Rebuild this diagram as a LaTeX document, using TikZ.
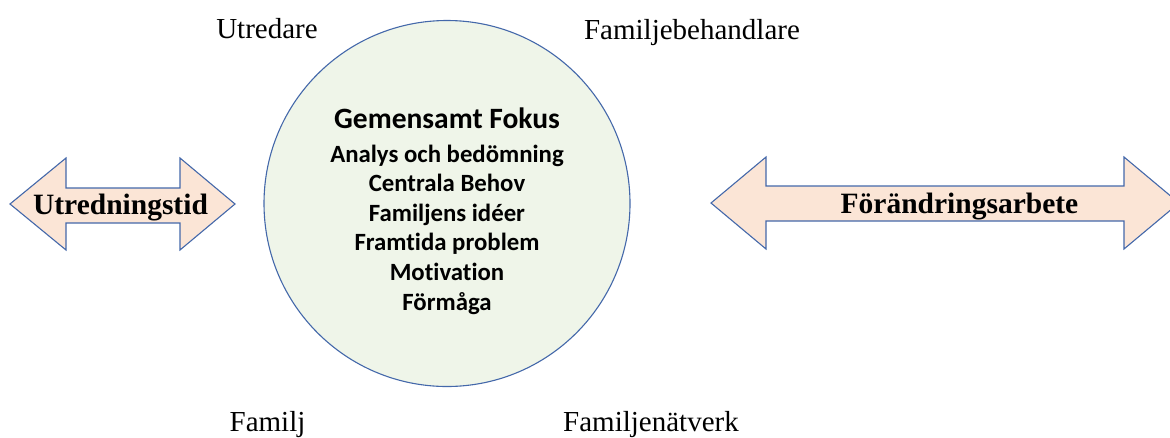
\documentclass[tikz,border=0pt]{standalone}
\usepackage{fontspec}
\setmainfont{Liberation Serif}
\newfontfamily\calibri[Ligatures=NoCommon]{Carlito}
\definecolor{circfill}{RGB}{239,245,233}
\definecolor{edgeblue}{RGB}{68,104,170}
\definecolor{peach}{RGB}{251,229,214}
\tikzset{
  arrowshape/.style={fill=peach,draw=edgeblue,line width=1.1pt,line join=miter},
  role/.style={font=\fontsize{29}{29}\selectfont,anchor=base,inner sep=0pt},
  phase/.style={font=\fontsize{29.5}{29.5}\selectfont\bfseries,anchor=base,inner sep=0pt},
  head/.style={font=\calibri\fontsize{29.5}{29.5}\selectfont\bfseries,anchor=base,inner sep=0pt},
  item/.style={font=\calibri\fontsize{24.8}{24.8}\selectfont\bfseries,anchor=base,inner sep=0pt},
}
\begin{document}
\begin{tikzpicture}[x=1pt,y=-1pt]
\useasboundingbox (0,0) rectangle (1170,437);
% circle
\node[circle,draw=edgeblue,fill=circfill,line width=1.1pt,minimum size=366pt,inner sep=0pt] (focus) at (447,203.5) {};
% left double arrow
\draw[arrowshape] (10,204) -- (66,158) -- (66,188) -- (180,188) -- (180,158) -- (235,204)
  -- (180,250) -- (180,223) -- (66,223) -- (66,250) -- cycle;
% right double arrow
\draw[arrowshape] (711,203) -- (766,157) -- (766,186) -- (1124,186) -- (1124,157) -- (1179,203)
  -- (1124,249) -- (1124,221) -- (766,221) -- (766,249) -- cycle;
\node[phase] (utr) at (120.5,214.5) {Utredningstid};
\node[phase] (forand) at (959.5,213.5) {Förändringsarbete};
% roles
\node[role] (utredare) at (267,38) {Utredare};
\node[role] (famb) at (692,39) {Familjebehandlare};
\node[role] (familj) at (267.5,431) {Familj};
\node[role] (famn) at (651,431) {Familjenätverk};
% circle text
\node[head] (h) at (447,128) {Gemensamt Fokus};
\node[item] (i1) at (447,162) {Analys och bedömning};
\node[item] (i2) at (447,191.6) {Centrala Behov};
\node[item] (i3) at (447,221.2) {Familjens idéer};
\node[item] (i4) at (447,250.8) {Framtida problem};
\node[item] (i5) at (447,280.4) {Motivation};
\node[item] (i6) at (447,310) {Förmåga};
\end{tikzpicture}
\end{document}
